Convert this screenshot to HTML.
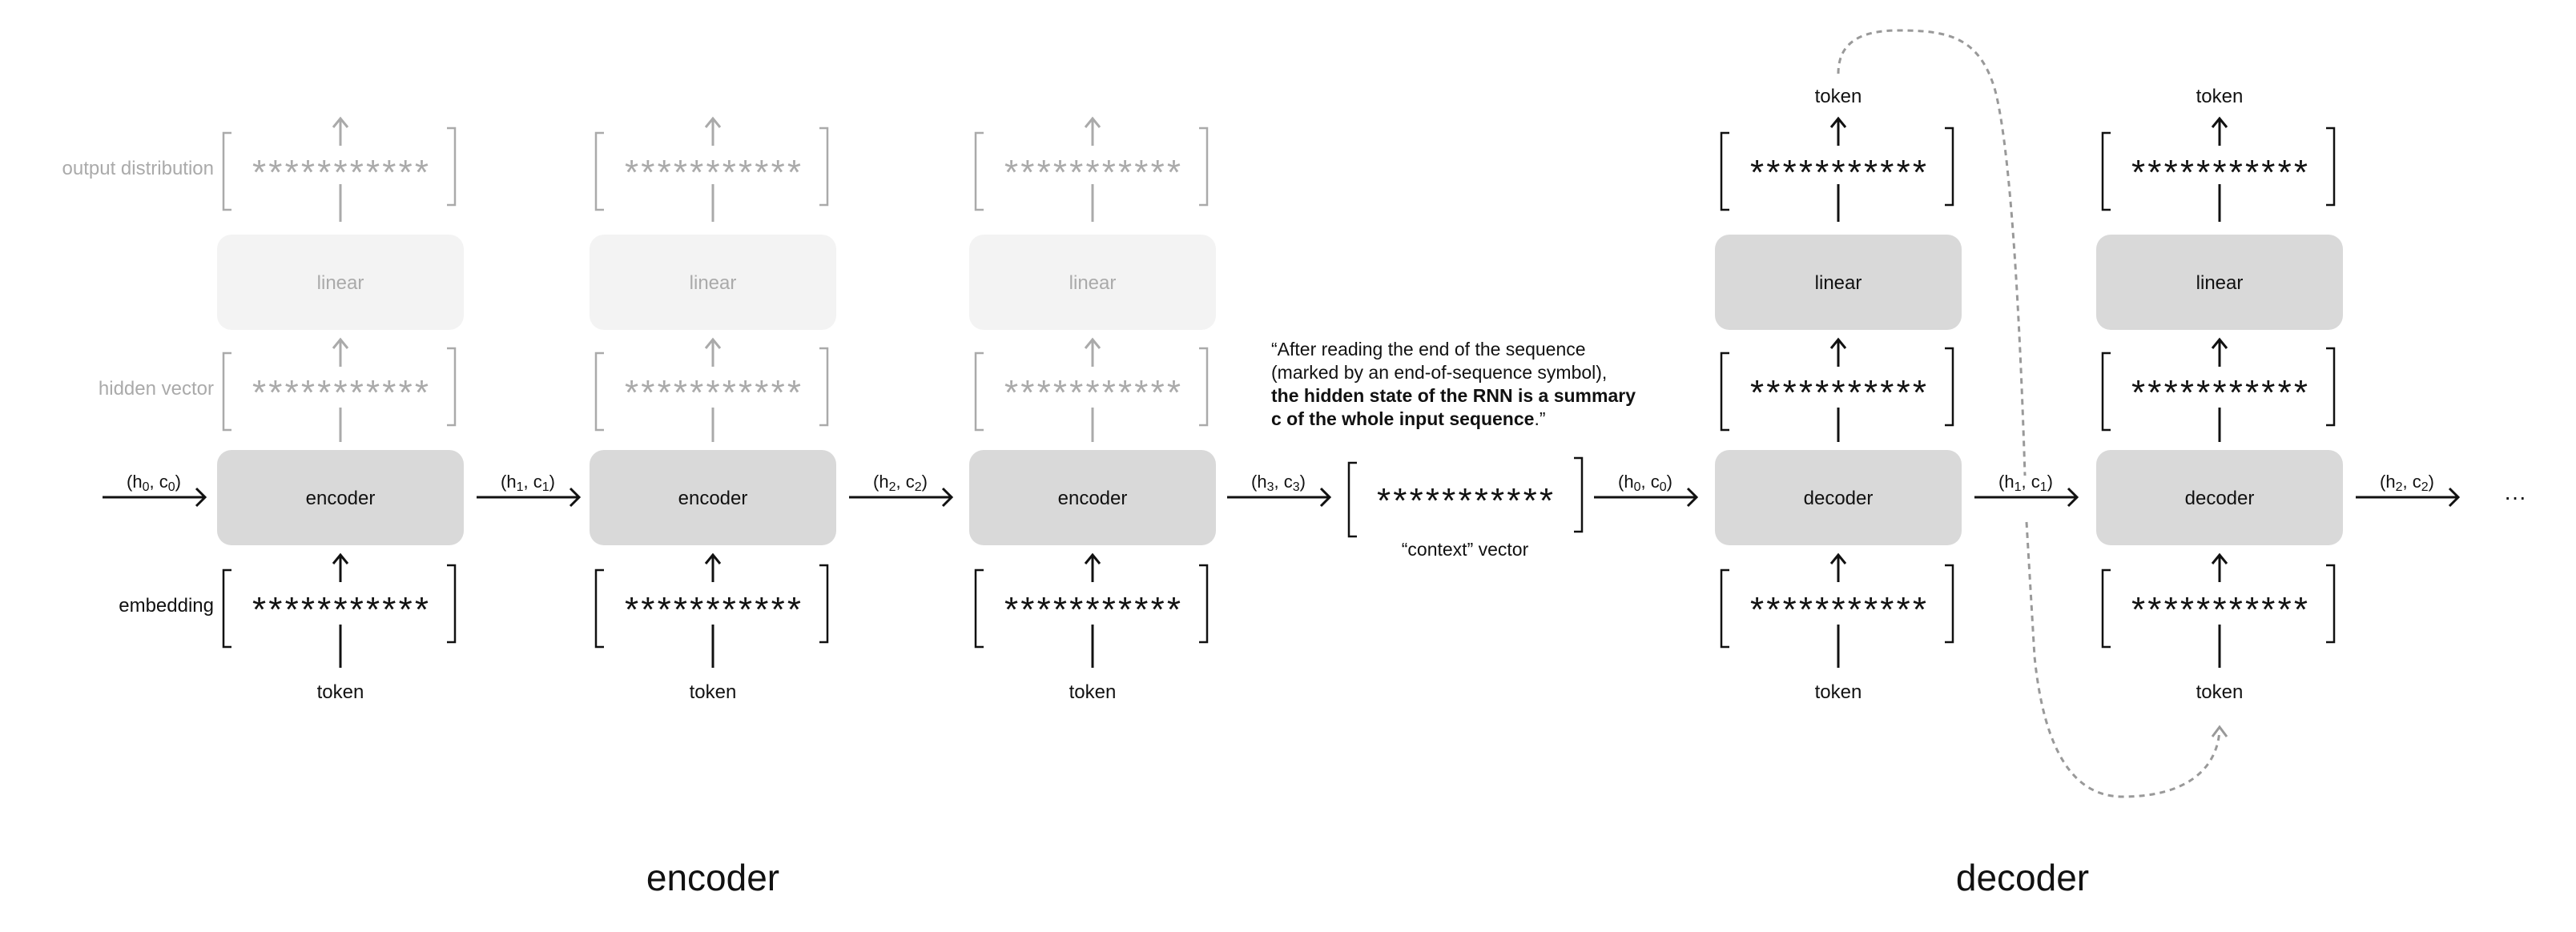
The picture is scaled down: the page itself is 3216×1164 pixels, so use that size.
<!DOCTYPE html>
<html><head><meta charset="utf-8"><style>
html,body{margin:0;padding:0;background:#fff;}
svg{display:block;font-family:"Liberation Sans",sans-serif;}
</style></head><body>
<svg width="3216" height="1164" viewBox="0 0 3216 1164" xmlns="http://www.w3.org/2000/svg">
<defs>
  <g id="brk">
    <path d="M -136 0 H -146 V 96 H -136" fill="none" stroke-width="2.5"/>
    <path d="M 133 -6 H 143 V 90 H 133" fill="none" stroke-width="2.5"/>
  </g>
  <g id="up">
    <path d="M 0 0 V -34 M -9 -23 L 0 -34 L 9 -23" fill="none" stroke-width="3"/>
  </g>
  <g id="right">
    <path d="M 0 0 H 128 M 117 -11 L 128 0 L 117 11" fill="none" stroke-width="3"/>
  </g>
</defs>

<g transform="translate(425,0)">
  <g stroke="#aaa">
    <use href="#brk" y="166"/>
    <line x1="0" y1="277" x2="0" y2="230" stroke-width="3"/>
    <use href="#up" y="182"/>
    <use href="#brk" y="441"/>
    <line x1="0" y1="552" x2="0" y2="509" stroke-width="3"/>
    <use href="#up" y="458"/>
  </g>
  <text x="0" y="230" text-anchor="middle" font-size="44" fill="#aaa" textLength="220" lengthAdjust="spacing">***********</text>
  <rect x="-154" y="293" width="308" height="119" rx="18" fill="#f3f3f3"/>
  <text x="0" y="361" text-anchor="middle" font-size="24" fill="#aaa">linear</text>
  <text x="0" y="505" text-anchor="middle" font-size="44" fill="#aaa" textLength="220" lengthAdjust="spacing">***********</text>
  <rect x="-154" y="562" width="308" height="119" rx="18" fill="#d9d9d9"/>
  <text x="0" y="630" text-anchor="middle" font-size="24" fill="#111">encoder</text>
  <g stroke="#111">
    <use href="#brk" y="712"/>
    <line x1="0" y1="834" x2="0" y2="780" stroke-width="3"/>
    <use href="#up" y="727"/>
  </g>
  <text x="0" y="776" text-anchor="middle" font-size="44" fill="#111" textLength="220" lengthAdjust="spacing">***********</text>
  <text x="0" y="872" text-anchor="middle" font-size="24" fill="#111">token</text>
</g>
<g transform="translate(890,0)">
  <g stroke="#aaa">
    <use href="#brk" y="166"/>
    <line x1="0" y1="277" x2="0" y2="230" stroke-width="3"/>
    <use href="#up" y="182"/>
    <use href="#brk" y="441"/>
    <line x1="0" y1="552" x2="0" y2="509" stroke-width="3"/>
    <use href="#up" y="458"/>
  </g>
  <text x="0" y="230" text-anchor="middle" font-size="44" fill="#aaa" textLength="220" lengthAdjust="spacing">***********</text>
  <rect x="-154" y="293" width="308" height="119" rx="18" fill="#f3f3f3"/>
  <text x="0" y="361" text-anchor="middle" font-size="24" fill="#aaa">linear</text>
  <text x="0" y="505" text-anchor="middle" font-size="44" fill="#aaa" textLength="220" lengthAdjust="spacing">***********</text>
  <rect x="-154" y="562" width="308" height="119" rx="18" fill="#d9d9d9"/>
  <text x="0" y="630" text-anchor="middle" font-size="24" fill="#111">encoder</text>
  <g stroke="#111">
    <use href="#brk" y="712"/>
    <line x1="0" y1="834" x2="0" y2="780" stroke-width="3"/>
    <use href="#up" y="727"/>
  </g>
  <text x="0" y="776" text-anchor="middle" font-size="44" fill="#111" textLength="220" lengthAdjust="spacing">***********</text>
  <text x="0" y="872" text-anchor="middle" font-size="24" fill="#111">token</text>
</g>
<g transform="translate(1364,0)">
  <g stroke="#aaa">
    <use href="#brk" y="166"/>
    <line x1="0" y1="277" x2="0" y2="230" stroke-width="3"/>
    <use href="#up" y="182"/>
    <use href="#brk" y="441"/>
    <line x1="0" y1="552" x2="0" y2="509" stroke-width="3"/>
    <use href="#up" y="458"/>
  </g>
  <text x="0" y="230" text-anchor="middle" font-size="44" fill="#aaa" textLength="220" lengthAdjust="spacing">***********</text>
  <rect x="-154" y="293" width="308" height="119" rx="18" fill="#f3f3f3"/>
  <text x="0" y="361" text-anchor="middle" font-size="24" fill="#aaa">linear</text>
  <text x="0" y="505" text-anchor="middle" font-size="44" fill="#aaa" textLength="220" lengthAdjust="spacing">***********</text>
  <rect x="-154" y="562" width="308" height="119" rx="18" fill="#d9d9d9"/>
  <text x="0" y="630" text-anchor="middle" font-size="24" fill="#111">encoder</text>
  <g stroke="#111">
    <use href="#brk" y="712"/>
    <line x1="0" y1="834" x2="0" y2="780" stroke-width="3"/>
    <use href="#up" y="727"/>
  </g>
  <text x="0" y="776" text-anchor="middle" font-size="44" fill="#111" textLength="220" lengthAdjust="spacing">***********</text>
  <text x="0" y="872" text-anchor="middle" font-size="24" fill="#111">token</text>
</g>

<g transform="translate(2295,0)">
  <text x="0" y="128" text-anchor="middle" font-size="24" fill="#111">token</text>
  <g stroke="#111">
    <use href="#up" y="182"/>
    <use href="#brk" y="166"/>
    <line x1="0" y1="277" x2="0" y2="230" stroke-width="3"/>
    <use href="#brk" y="441"/>
    <line x1="0" y1="552" x2="0" y2="509" stroke-width="3"/>
    <use href="#up" y="458"/>
    <use href="#brk" y="712"/>
    <line x1="0" y1="834" x2="0" y2="780" stroke-width="3"/>
    <use href="#up" y="727"/>
  </g>
  <text x="0" y="230" text-anchor="middle" font-size="44" fill="#111" textLength="220" lengthAdjust="spacing">***********</text>
  <rect x="-154" y="293" width="308" height="119" rx="18" fill="#d9d9d9"/>
  <text x="0" y="361" text-anchor="middle" font-size="24" fill="#111">linear</text>
  <text x="0" y="505" text-anchor="middle" font-size="44" fill="#111" textLength="220" lengthAdjust="spacing">***********</text>
  <rect x="-154" y="562" width="308" height="119" rx="18" fill="#d9d9d9"/>
  <text x="0" y="630" text-anchor="middle" font-size="24" fill="#111">decoder</text>
  <text x="0" y="776" text-anchor="middle" font-size="44" fill="#111" textLength="220" lengthAdjust="spacing">***********</text>
  <text x="0" y="872" text-anchor="middle" font-size="24" fill="#111">token</text>
</g>
<g transform="translate(2771,0)">
  <text x="0" y="128" text-anchor="middle" font-size="24" fill="#111">token</text>
  <g stroke="#111">
    <use href="#up" y="182"/>
    <use href="#brk" y="166"/>
    <line x1="0" y1="277" x2="0" y2="230" stroke-width="3"/>
    <use href="#brk" y="441"/>
    <line x1="0" y1="552" x2="0" y2="509" stroke-width="3"/>
    <use href="#up" y="458"/>
    <use href="#brk" y="712"/>
    <line x1="0" y1="834" x2="0" y2="780" stroke-width="3"/>
    <use href="#up" y="727"/>
  </g>
  <text x="0" y="230" text-anchor="middle" font-size="44" fill="#111" textLength="220" lengthAdjust="spacing">***********</text>
  <rect x="-154" y="293" width="308" height="119" rx="18" fill="#d9d9d9"/>
  <text x="0" y="361" text-anchor="middle" font-size="24" fill="#111">linear</text>
  <text x="0" y="505" text-anchor="middle" font-size="44" fill="#111" textLength="220" lengthAdjust="spacing">***********</text>
  <rect x="-154" y="562" width="308" height="119" rx="18" fill="#d9d9d9"/>
  <text x="0" y="630" text-anchor="middle" font-size="24" fill="#111">decoder</text>
  <text x="0" y="776" text-anchor="middle" font-size="44" fill="#111" textLength="220" lengthAdjust="spacing">***********</text>
  <text x="0" y="872" text-anchor="middle" font-size="24" fill="#111">token</text>
</g>

<text x="267" y="218" text-anchor="end" font-size="24" fill="#aaa">output distribution</text>
<text x="267" y="493" text-anchor="end" font-size="24" fill="#aaa">hidden vector</text>
<text x="267" y="764" text-anchor="end" font-size="24" fill="#111">embedding</text>

<g stroke="#111">
  <use href="#right" x="128" y="621"/>
  <use href="#right" x="595" y="621"/>
  <use href="#right" x="1060" y="621"/>
  <use href="#right" x="1532" y="621"/>
  <use href="#right" x="1990" y="621"/>
  <use href="#right" x="2465" y="621"/>
  <use href="#right" x="2941" y="621"/>
</g>
<g font-size="22" fill="#111" text-anchor="middle">
  <text x="192" y="609">(h<tspan font-size="16" dy="4">0</tspan><tspan dy="-4">, c</tspan><tspan font-size="16" dy="4">0</tspan><tspan dy="-4">)</tspan></text>
  <text x="659" y="609">(h<tspan font-size="16" dy="4">1</tspan><tspan dy="-4">, c</tspan><tspan font-size="16" dy="4">1</tspan><tspan dy="-4">)</tspan></text>
  <text x="1124" y="609">(h<tspan font-size="16" dy="4">2</tspan><tspan dy="-4">, c</tspan><tspan font-size="16" dy="4">2</tspan><tspan dy="-4">)</tspan></text>
  <text x="1596" y="609">(h<tspan font-size="16" dy="4">3</tspan><tspan dy="-4">, c</tspan><tspan font-size="16" dy="4">3</tspan><tspan dy="-4">)</tspan></text>
  <text x="2054" y="609">(h<tspan font-size="16" dy="4">0</tspan><tspan dy="-4">, c</tspan><tspan font-size="16" dy="4">0</tspan><tspan dy="-4">)</tspan></text>
  <text x="2529" y="609">(h<tspan font-size="16" dy="4">1</tspan><tspan dy="-4">, c</tspan><tspan font-size="16" dy="4">1</tspan><tspan dy="-4">)</tspan></text>
  <text x="3005" y="609">(h<tspan font-size="16" dy="4">2</tspan><tspan dy="-4">, c</tspan><tspan font-size="16" dy="4">2</tspan><tspan dy="-4">)</tspan></text>
</g>
<text x="3140" y="630" text-anchor="middle" font-size="28" fill="#111">···</text>

<path d="M 1694 578 H 1684 V 670 H 1694" fill="none" stroke="#111" stroke-width="2.5"/>
<path d="M 1965 572 H 1975 V 664 H 1965" fill="none" stroke="#111" stroke-width="2.5"/>
<text x="1829" y="640" text-anchor="middle" font-size="44" fill="#111" textLength="220" lengthAdjust="spacing">***********</text>
<text x="1829" y="694" text-anchor="middle" font-size="23" fill="#111">“context” vector</text>

<g font-size="23" fill="#111">
  <text x="1587" y="444">“After reading the end of the sequence</text>
  <text x="1587" y="473">(marked by an end-of-sequence symbol),</text>
  <text x="1587" y="502" font-weight="bold">the hidden state of the RNN is a summary</text>
  <text x="1587" y="531"><tspan font-weight="bold">c of the whole input sequence</tspan>.”</text>
</g>

<g fill="none" stroke="#999" stroke-width="3" stroke-dasharray="7 6">
  <path d="M 2295 92 C 2295 55, 2320 38, 2370 38 C 2430 38, 2470 45, 2490 110 C 2510 180, 2522 400, 2528 594"/>
  <path d="M 2530 652 L 2540 820 C 2552 940, 2590 995, 2650 995 C 2730 995, 2768 960, 2771 912"/>
</g>
<path d="M 2762 920 L 2771 908 L 2780 920" fill="none" stroke="#999" stroke-width="3"/>

<text x="890" y="1112" text-anchor="middle" font-size="46" fill="#111">encoder</text>
<text x="2525" y="1112" text-anchor="middle" font-size="46" fill="#111">decoder</text>
</svg>
</body></html>
